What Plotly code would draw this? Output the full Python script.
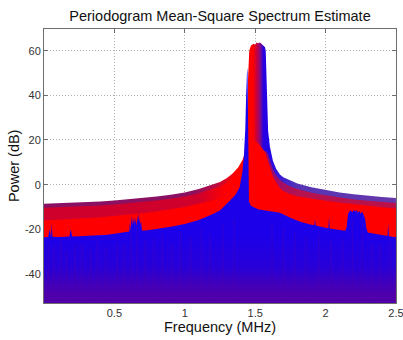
import plotly.graph_objects as go

# ---------------------------------------------------------------------------
# Spectrum layers (frequency in MHz, power in dB)
# ---------------------------------------------------------------------------
FREQ = [0.00, 0.10, 0.20, 0.30, 0.40, 0.50, 0.60, 0.70, 0.80, 0.90,
        1.00, 1.10, 1.20, 1.25, 1.30, 1.34, 1.38, 1.41, 1.43, 1.445,
        1.449, 1.452, 1.458, 1.47, 1.48, 1.49, 1.50, 1.51, 1.52, 1.535,
        1.55, 1.56, 1.57, 1.575, 1.582, 1.589, 1.592, 1.605, 1.626, 1.65,
        1.676, 1.70, 1.75, 1.80, 1.90, 2.00, 2.10, 2.20, 2.30, 2.40, 2.50]

# upper envelope of all estimates
ENVELOPE_DB = [-8.6, -8.4, -8.2, -7.9, -7.5, -7.1, -6.6, -6.0, -5.3, -4.5,
               -3.5, -2.0, 0.0, 1.2, 3.0, 5.0, 7.8, 11.0, 14.5, 17.0,
               47.0, 55.0, 60.0, 62.3, 62.9, 63.1, 62.6, 63.7, 63.3, 63.6,
               62.8, 62.2, 61.5, 60.0, 47.0, 32.0, 24.0, 17.0, 10.7, 7.0,
               4.5, 3.3, 1.8, 0.5, -1.2, -2.5, -3.5, -4.3, -5.0, -5.5, -6.0]

# crimson family
UPPER_BAND_DB = [-10.3, -10.1, -9.9, -9.6, -9.3, -8.9, -8.4, -7.8, -7.1, -6.3,
                 -5.3, -3.9, -1.9, -0.7, 1.0, 3.0, 5.8, 9.0, 12.5, 15.0,
                 10.0, 10.0, 10.5, 11.0, 11.5, 12.0, 12.5, 13.0, 13.5, 14.0,
                 14.5, 15.0, 15.0, 15.0, 14.5, 14.0, 13.5, 11.0, 7.0, 4.2,
                 2.2, 1.0, -0.8, -2.0, -3.6, -4.8, -5.8, -6.6, -7.2, -7.7, -8.2]

# red family
RED_BAND_DB = [-16.0, -15.8, -15.5, -15.1, -14.6, -14.1, -13.5, -12.8, -12.0, -11.1,
               -10.0, -8.6, -7.0, -6.2, -4.5, -2.5, 0.5, 4.0, 7.5, 10.0,
               22.0, 22.0, 21.5, 21.0, 20.5, 20.0, 19.5, 19.0, 18.5, 17.5,
               16.5, 15.5, 14.5, 13.5, 12.5, 11.0, 10.0, 7.5, 4.0, 1.0,
               -1.5, -2.9, -4.3, -5.2, -6.3, -7.2, -8.0, -8.8, -9.5, -10.1, -10.7]

# blue family (lowest noise floor, with spurs near 0.65 and 2.2 MHz)
FREQ_LOW = [0.00, 0.03, 0.04, 0.045, 0.05, 0.055, 0.06, 0.10, 0.15, 0.18,
            0.19, 0.20, 0.25, 0.30, 0.35, 0.40, 0.45, 0.50, 0.55, 0.60,
            0.605, 0.61, 0.615, 0.62, 0.625, 0.63, 0.635, 0.64, 0.645, 0.65,
            0.655, 0.66, 0.665, 0.67, 0.675, 0.68, 0.685, 0.69, 0.695, 0.70,
            0.75, 0.80, 0.85, 0.90, 1.00, 1.10, 1.20, 1.25, 1.32, 1.36,
            1.39, 1.41, 1.42, 1.43, 1.436, 1.44, 1.443, 1.446, 1.449, 1.452,
            1.456, 1.47, 1.50, 1.52, 1.55, 1.60, 1.676, 1.75, 1.82, 1.90,
            1.92, 1.925, 1.93, 2.00, 2.02, 2.025, 2.03, 2.10, 2.14, 2.15,
            2.16, 2.17, 2.18, 2.19, 2.20, 2.21, 2.22, 2.23, 2.24, 2.25,
            2.26, 2.27, 2.28, 2.29, 2.30, 2.35, 2.40, 2.44, 2.445, 2.45, 2.50]

LOW_DB = [-23.6, -23.5, -20.0, -23.4, -23.4, -17.0, -23.3, -23.4, -23.3, -23.2,
          -20.0, -23.2, -23.1, -23.0, -22.9, -22.7, -22.4, -22.0, -21.6, -21.2,
          -21.0, -17.0, -20.5, -16.5, -14.0, -18.0, -15.5, -14.8, -17.5, -15.0,
          -18.5, -16.0, -14.0, -13.0, -17.0, -15.0, -18.0, -16.5, -20.0, -20.6,
          -20.3, -19.9, -19.4, -18.9, -17.6, -15.8, -13.2, -11.6, -7.2, -4.5,
          -1.2, 6.0, 13.0, 25.0, 40.0, 50.0, 52.5, 50.0, 38.0, 6.0,
          -7.5, -9.5, -10.5, -11.0, -11.4, -12.0, -12.6, -14.8, -16.6, -18.0,
          -18.2, -15.5, -18.3, -19.3, -19.5, -14.5, -19.6, -20.3, -20.6, -19.0,
          -13.0, -12.0, -11.5, -12.5, -11.2, -12.0, -11.5, -12.5, -11.8, -13.0,
          -12.0, -13.5, -15.0, -19.5, -21.4, -22.0, -22.6, -23.0, -17.6, -23.1, -23.6]

# deep noise dips inside the blue family (frequency, level where the dip starts)
DIP_FREQ = [0.03, 0.07, 0.12, 0.16, 0.22, 0.27, 0.33, 0.38, 0.44, 0.52,
            0.57, 0.62, 0.66, 0.72, 0.78, 0.84, 0.91, 0.97, 1.04, 1.12,
            1.18, 1.27, 1.35, 1.62, 1.70, 1.78, 1.86, 1.95, 2.04, 2.12,
            2.19, 2.26, 2.33, 2.39, 2.46]
DIP_DB = [-26, -28, -25, -30, -27, -26, -29, -25, -28, -26,
          -27, -20, -18, -25, -24, -22, -27, -21, -23, -20,
          -22, -18, -15, -17, -19, -21, -23, -22, -25, -24,
          -16, -17, -26, -27, -25]

TITLE = "Periodogram Mean-Square Spectrum Estimate"
X_LABEL = "Frequency (MHz)"
Y_LABEL = "Power (dB)"
X_TICKS = [0.5, 1, 1.5, 2, 2.5]
X_TICK_TEXT = ["0.5", "1", "1.5", "2", "2.5"]
Y_TICKS = [-40, -20, 0, 20, 40, 60]
Y_TICK_TEXT = ["-40", "-20", "0", "20", "40", "60"]

X_RANGE = [0.0, 2.5005]
Y_RANGE = [-53.0, 69.7]
FLOOR = Y_RANGE[0] - 5.0

FONT = "Liberation Sans, Arial, Helvetica, sans-serif"


def layer(freq, db, gradient):
    """Closed area from a spectrum down below the bottom of the axes."""
    xs = list(freq) + [freq[-1], freq[0]]
    ys = list(db) + [FLOOR, FLOOR]
    return go.Scatter(x=xs, y=ys, mode="lines", fill="toself",
                      line=dict(width=0), fillgradient=gradient,
                      hoverinfo="skip", showlegend=False)


def hgrad(stops):
    """Horizontal colour gradient with stops given in MHz."""
    lo, hi = 0.0, 2.5
    return dict(type="horizontal", start=lo, stop=hi,
                colorscale=[[(f - lo) / (hi - lo), c] for f, c in stops])


env_grad = hgrad([(0.0, "#8a1062"), (1.05, "#8a1062"), (1.22, "#b80c42"),
                  (1.36, "#ff0000"), (1.485, "#ff0000"), (1.51, "#c8003c"),
                  (1.535, "#880a80"), (1.558, "#2a00e0"), (1.59, "#2000e8"),
                  (1.66, "#3418d8"), (1.80, "#5634b4"), (2.5, "#6638aa")])

upper_grad = hgrad([(0.0, "#cf002c"), (1.10, "#cf002c"), (1.30, "#ff0000"),
                    (1.50, "#ff0000"), (1.56, "#c0003e"), (1.60, "#8a0a80"),
                    (1.66, "#a00c68"), (1.80, "#b41250"), (2.5, "#bc1048")])

red_grad = hgrad([(0.0, "#ff0000"), (2.5, "#ff0000")])

low_span = -22.0 - FLOOR
low_grad = dict(type="vertical", start=FLOOR, stop=-22.0,
                colorscale=[[0.0, "#5200a8"],
                            [(-50.0 - FLOOR) / low_span, "#5000aa"],
                            [(-45.0 - FLOOR) / low_span, "#4200b8"],
                            [(-37.0 - FLOOR) / low_span, "#2800d8"],
                            [1.0, "#1c00ea"]])

fig = go.Figure()
fig.add_trace(layer(FREQ, ENVELOPE_DB, env_grad))
fig.add_trace(layer(FREQ, UPPER_BAND_DB, upper_grad))
fig.add_trace(layer(FREQ, RED_BAND_DB, red_grad))
fig.add_trace(layer(FREQ_LOW, LOW_DB, low_grad))

# noise dips drawn as thin vertical strokes down to the floor
dip_x, dip_y = [], []
for f, d in zip(DIP_FREQ, DIP_DB):
    dip_x += [f, f, None]
    dip_y += [d, FLOOR, None]
fig.add_trace(go.Scatter(x=dip_x, y=dip_y, mode="lines",
                         line=dict(color="rgba(84,0,168,0.45)", width=1),
                         hoverinfo="skip", showlegend=False))

axis_style = dict(
    showline=True, linecolor="#6e6e6e", linewidth=1, mirror="ticks",
    ticks="inside", ticklen=4, tickcolor="#6e6e6e",
    showgrid=True, gridcolor="#b0b0b0", griddash="1px,2px", gridwidth=1,
    zeroline=False, layer="below traces", automargin=False,
    ticklabeloverflow="allow",
    tickfont=dict(family=FONT, size=11, color="#333333"),
)

fig.update_xaxes(range=X_RANGE, tickvals=X_TICKS, ticktext=X_TICK_TEXT, **axis_style)
fig.update_yaxes(range=Y_RANGE, tickvals=Y_TICKS, ticktext=Y_TICK_TEXT, **axis_style)

fig.update_layout(
    width=403, height=340,
    margin=dict(l=44, r=7, t=29, b=37, autoexpand=False),
    paper_bgcolor="white", plot_bgcolor="white",
    font=dict(family=FONT, size=11, color="#333333"),
    title=dict(text=TITLE, x=0.5, xref="paper", xanchor="center",
               y=1 - 15.5 / 340, yref="container", yanchor="middle",
               font=dict(family=FONT, size=14.5, color="#111111")),
    annotations=[
        dict(text=X_LABEL, x=0.5, y=-0.087, xref="paper", yref="paper",
             xanchor="center", yanchor="middle", showarrow=False,
             font=dict(family=FONT, size=14.5, color="#111111")),
        dict(text=Y_LABEL, x=-0.085, y=0.5, xref="paper", yref="paper",
             xanchor="center", yanchor="middle", textangle=-90, showarrow=False,
             font=dict(family=FONT, size=14.5, color="#111111")),
    ],
)

fig.write_html("out.html")
